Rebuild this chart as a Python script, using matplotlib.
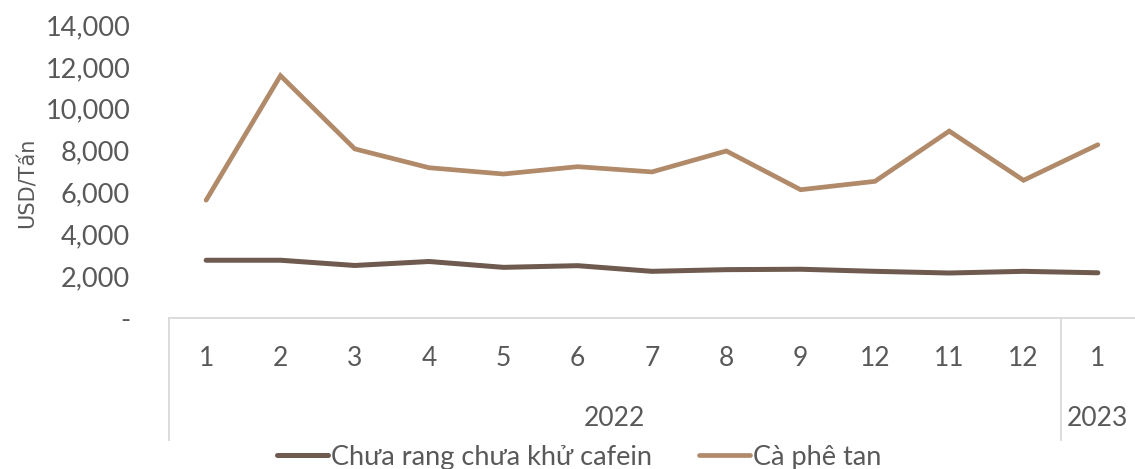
import matplotlib
matplotlib.use("Agg")
import matplotlib.pyplot as plt
from matplotlib.lines import Line2D
from matplotlib.ticker import FuncFormatter

months = ["1", "2", "3", "4", "5", "6", "7", "8", "9", "12", "11", "12", "1"]
years = ["2022", "2023"]
year_counts = [12, 1]
series_names = ["Chưa rang chưa khử cafein", "Cà phê tan"]
unroasted = [2760, 2760, 2510, 2700, 2420, 2500, 2230, 2310, 2330, 2230, 2150, 2230, 2160]
instant = [5630, 11580, 8080, 7180, 6880, 7230, 6980, 7980, 6130, 6530, 8930, 6580, 8280]
y_ticks = [0, 2000, 4000, 6000, 8000, 10000, 12000, 14000]

C_DARK = "#6E5A4E"
C_TAN = "#B08A69"
TXT = "#595959"
GRID = "#D9D9D9"
FONT = "Lato"

W, H = 1135, 469
fig = plt.figure(figsize=(W / 100, H / 100), dpi=100)
ax_l, ax_r, ax_t, ax_b = 169, 1135, 25, 318
ax = fig.add_axes([ax_l / W, 1 - ax_b / H, (ax_r - ax_l) / W, (ax_b - ax_t) / H])

x = list(range(len(months)))
ax.plot(x, unroasted, color=C_DARK, lw=3.6, solid_capstyle="round", solid_joinstyle="miter", zorder=3)
ax.plot(x, instant, color=C_TAN, lw=3.4, solid_capstyle="round", solid_joinstyle="miter", zorder=3)

ax.set_xlim(-0.5, len(months) - 0.5)
ax.set_ylim(0, 14000)
for s in ["top", "right", "left"]:
    ax.spines[s].set_visible(False)
ax.spines["bottom"].set_color(GRID)
ax.spines["bottom"].set_linewidth(1.3)

ax.set_yticks(y_ticks)
ax.yaxis.set_major_formatter(FuncFormatter(lambda v, p: "-" if v == 0 else f"{int(v):,}"))
ax.tick_params(axis="y", length=0, pad=28, labelsize=19.5, labelcolor=TXT)
for lab in ax.get_yticklabels():
    lab.set_fontfamily(FONT)

ax.set_xticks(x)
ax.set_xticklabels(months, fontfamily=FONT, fontsize=19, color=TXT)
ax.tick_params(axis="x", length=0, pad=29)
for lab in ax.get_xticklabels():
    lab.set_va("center")

# group separators and year labels
axis_h = ax_b - ax_t
y_bottom = (ax_b - 440) / axis_h
y_year = (ax_b - 418) / axis_h
bounds = [-0.5]
for n in year_counts:
    bounds.append(bounds[-1] + n)
for b in bounds[:-1]:
    ax.plot([b, b], [0, y_bottom], transform=ax.get_xaxis_transform(), color=GRID,
            lw=1.3, clip_on=False, zorder=1)
for i, yr in enumerate(years):
    cx = (bounds[i] + bounds[i + 1]) / 2
    ax.text(cx, y_year, yr, transform=ax.get_xaxis_transform(), ha="center", va="center",
            fontfamily=FONT, fontsize=19, color=TXT)

fig.text(28 / W, 1 - 183 / H, "USD/Tấn", rotation=90, ha="center", va="center",
         fontfamily="DejaVu Sans", fontsize=15, color=TXT)

handles = [Line2D([], [], color=C_DARK, lw=3.6, solid_capstyle="round"),
           Line2D([], [], color=C_TAN, lw=3.4, solid_capstyle="round")]
leg = fig.legend(handles, series_names, loc="center", bbox_to_anchor=(579 / W, 1 - 457 / H),
                 ncol=2, frameon=False, handlelength=1.9, handletextpad=0.08, columnspacing=1.75,
                 prop={"family": FONT, "size": 19.5}, borderpad=0, borderaxespad=0)
for t in leg.get_texts():
    t.set_color(TXT)

fig.savefig("out.png", dpi=100)
